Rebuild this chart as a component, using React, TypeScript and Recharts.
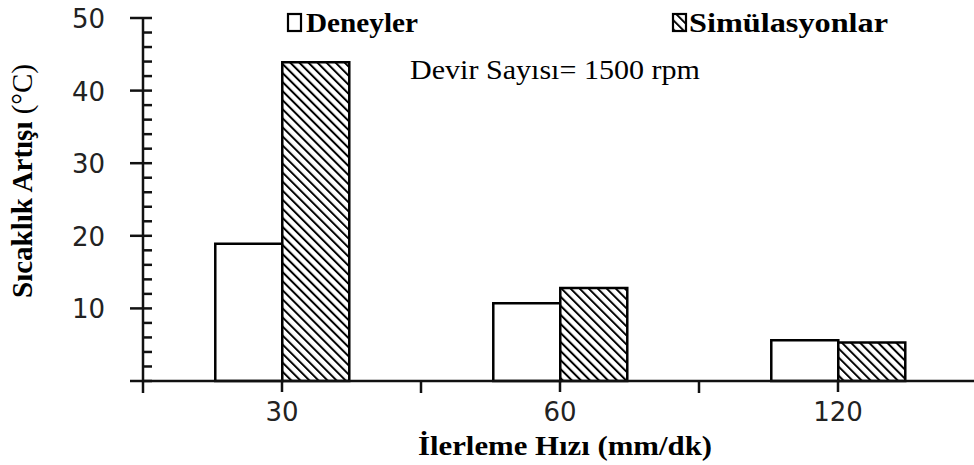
import React from 'react';
import { BarChart, Bar, XAxis, YAxis, Legend } from 'recharts';

// Feed rate categories (mm/dk) and temperature rise (°C) per series
const categories = ['30', '60', '120'];
const deneyler = [18.9, 10.7, 5.6];
const simulasyonlar = [43.9, 12.8, 5.3];

// Y-axis ticks: labelled majors every 10, minor marks every 2
const yMajorTicks = [0, 10, 20, 30, 40, 50];
const yAllTicks = [0, 2, 4, 6, 8, 10, 12, 14, 16, 18, 20, 22, 24, 26, 28, 30, 32, 34, 36, 38, 40, 42, 44, 46, 48, 50];
const yLabelledTicks = ['10', '20', '30', '40', '50'];

const seriesNames = { deneyler: 'Deneyler', simulasyonlar: 'Simülasyonlar' };
const annotation = 'Devir Sayısı= 1500 rpm';
const yTitleBold = 'Sıcaklık Artışı';
const yTitleUnit = ' (°C)';
const xTitle = 'İlerleme Hızı (mm/dk)';

const data = categories.map((feed, i) => ({
  feed,
  deneyler: deneyler[i],
  simulasyonlar: simulasyonlar[i],
}));

const W = 980;
const H = 465;
const M = { top: 18, right: 3, left: 0, bottom: 0 };
const Y_AXIS_W = 143;
const X_AXIS_H = 84;
const BAND = (W - M.left - M.right - Y_AXIS_W) / categories.length;

const INK = '#111';
const SERIF = '"Liberation Serif", "Times New Roman", serif';
const SANS = '"DejaVu Sans", Verdana, sans-serif';

const Hatch = ({ id }: { id: string }) => (
  <pattern id={id} patternUnits="userSpaceOnUse" width={6.4} height={10} patternTransform="rotate(-45)">
    <rect x={0} y={0} width={6.4} height={10} fill="#fff" />
    <line x1={1} y1={-1} x2={1} y2={11} stroke="#000" strokeWidth={2} />
  </pattern>
);

const YTick = (props: any) => {
  const { x, y, payload } = props;
  const v = payload.value;
  const major = yMajorTicks.includes(v);
  const label = yLabelledTicks.includes(String(v)) ? String(v) : null;
  return (
    <g>
      <line x1={major ? x - 13 : x} x2={x + 9} y1={y} y2={y} stroke={INK} strokeWidth={2.5} />
      {label && (
        <text x={x - 38} y={y + 10} textAnchor="end" fontFamily={SANS} fontSize={26} fill="#222">
          {label}
        </text>
      )}
    </g>
  );
};

const XTick = (props: any) => {
  const { x, y, payload, index } = props;
  const last = index === categories.length - 1;
  return (
    <g>
      <line x1={x} x2={x} y1={y} y2={y + 11} stroke={INK} strokeWidth={2.5} />
      <line x1={x - BAND / 2} x2={x - BAND / 2} y1={y} y2={y + 12} stroke={INK} strokeWidth={2.5} />
      {last && <line x1={x + BAND / 2} x2={x + BAND / 2} y1={y} y2={y + 12} stroke={INK} strokeWidth={2.5} />}
      <text x={x} y={y + 40} textAnchor="middle" fontFamily={SANS} fontSize={26} fill="#222">
        {payload.value}
      </text>
    </g>
  );
};

const YTitle = () => (
  <text
    transform="translate(32, 298) rotate(-90)"
    x={0}
    y={0}
    fontFamily={SERIF}
    fontSize={29}
    fill="#000"
  >
    <tspan fontWeight="bold">{yTitleBold}</tspan>
    <tspan>{yTitleUnit}</tspan>
  </text>
);

const XTitle = () => (
  <text
    x={418}
    y={455}
    fontFamily={SERIF}
    fontSize={28}
    fontWeight="bold"
    fill="#000"
    textLength={294}
    lengthAdjust="spacingAndGlyphs"
  >
    {xTitle}
  </text>
);

const LegendOverlay = () => (
  <svg width={974} height={95} style={{ display: 'block' }}>
    <defs>
      <Hatch id="legendHatch" />
    </defs>
    <rect x={288} y={14} width={13} height={17} fill="#fff" stroke="#000" strokeWidth={2.2} />
    <text
      x={306}
      y={32}
      fontFamily={SERIF}
      fontSize={28}
      fontWeight="bold"
      fill="#000"
      textLength={112}
      lengthAdjust="spacingAndGlyphs"
    >
      {seriesNames.deneyler}
    </text>
    <rect x={673} y={14} width={13} height={17} fill="url(#legendHatch)" stroke="#000" strokeWidth={2.2} />
    <text
      x={689}
      y={32}
      fontFamily={SERIF}
      fontSize={28}
      fontWeight="bold"
      fill="#000"
      textLength={199}
      lengthAdjust="spacingAndGlyphs"
    >
      {seriesNames.simulasyonlar}
    </text>
    <text
      x={410}
      y={79}
      fontFamily={SERIF}
      fontSize={27}
      fill="#000"
      textLength={290}
      lengthAdjust="spacingAndGlyphs"
    >
      {annotation}
    </text>
  </svg>
);

export default function App() {
  return (
    <div style={{ width: 974, height: H, overflow: 'hidden', background: '#fff', position: 'relative' }}>
      <style>{'body{margin:0;background:#fff}'}</style>
      <BarChart
        width={W}
        height={H}
        data={data}
        margin={M}
        barCategoryGap="26%"
        barGap={0}
      >
        <defs>
          <Hatch id="simHatch" />
        </defs>
        <XAxis
          dataKey="feed"
          type="category"
          height={X_AXIS_H}
          tickLine={false}
          tickSize={0}
          tickMargin={0}
          axisLine={{ stroke: INK, strokeWidth: 2.5 }}
          tick={<XTick />}
          interval={0}
          label={{ content: () => <XTitle /> }}
        />
        <YAxis
          type="number"
          domain={[0, 50]}
          ticks={yAllTicks}
          interval={0}
          width={Y_AXIS_W}
          tickLine={false}
          tickSize={0}
          tickMargin={0}
          axisLine={{ stroke: INK, strokeWidth: 2.5 }}
          tick={<YTick />}
          label={{ content: () => <YTitle /> }}
        />
        <Legend
          layout="horizontal"
          verticalAlign="middle"
          align="center"
          wrapperStyle={{ position: 'absolute', left: 0, top: 0, width: 974, height: 95 }}
          content={() => <LegendOverlay />}
        />
        <Bar
          dataKey="deneyler"
          name={seriesNames.deneyler}
          fill="#fff"
          stroke="#000"
          strokeWidth={2.5}
          isAnimationActive={false}
        />
        <Bar
          dataKey="simulasyonlar"
          name={seriesNames.simulasyonlar}
          fill="url(#simHatch)"
          stroke="#000"
          strokeWidth={2.5}
          isAnimationActive={false}
        />
      </BarChart>
    </div>
  );
}
